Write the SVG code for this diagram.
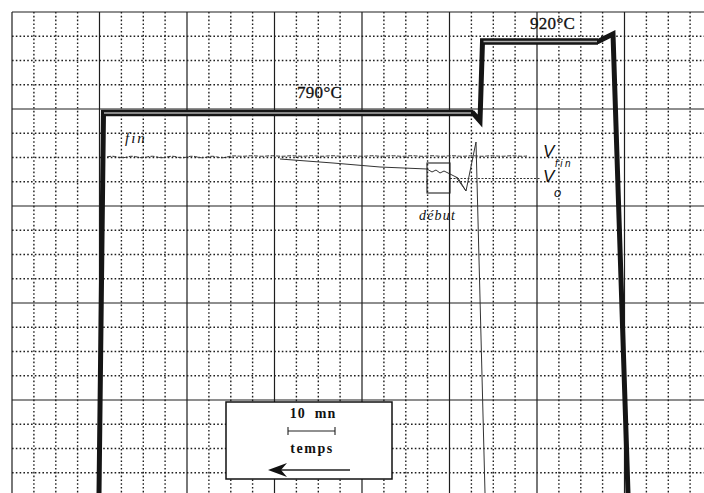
<svg xmlns="http://www.w3.org/2000/svg" width="704" height="493" viewBox="0 0 704 493">
<style>
.minor{stroke:#1e1e1e;stroke-width:1.4;stroke-dasharray:1.6 2.2;fill:none}
.major{stroke:#1e1e1e;stroke-width:1.2;fill:none}
.temp{stroke:#151515;stroke-width:5;fill:none;stroke-linejoin:miter}
.temph{stroke:#151515;stroke-width:6.5;fill:none}
.tempin{stroke:#b0b0b0;stroke-width:1.6;fill:none}
.trace{stroke:#333;stroke-width:1;fill:none}
.lbl{font-family:"Liberation Serif",serif;fill:#111}
</style>
<rect width="704" height="493" fill="#fff"/>
<g id="grid">
<path class="minor" d="M33.9 12V493M55.8 12V493M77.6 12V493M121.4 12V493M143.3 12V493M165.1 12V493M208.9 12V493M230.8 12V493M252.6 12V493M296.4 12V493M318.3 12V493M340.1 12V493M383.9 12V493M405.8 12V493M427.6 12V493M471.4 12V493M493.3 12V493M515.1 12V493M558.9 12V493M580.8 12V493M602.6 12V493M646.4 12V493M668.3 12V493M690.1 12V493"/>
<path class="minor" d="M12 36.3H704M12 60.5H704M12 84.8H704M12 133.3H704M12 157.5H704M12 181.8H704M12 230.3H704M12 254.5H704M12 278.8H704M12 327.3H704M12 351.5H704M12 375.8H704M12 424.3H704M12 448.5H704M12 472.8H704"/>
<path class="major" d="M12 12V493M99.5 12V493M187 12V493M274.5 12V493M362 12V493M449.5 12V493M537 12V493M624.5 12V493"/>
<path class="major" d="M12 12H704M12 109H704M12 206H704M12 303H704M12 400H704"/>
</g>
<g id="temperature">
<path class="temp" d="M99 493 L103.5 113 L473 113 L480 121 L482.5 41.5 L598 41.5 L613 34 L628 493"/>
<path class="temph" d="M101 113 L473 113 M480 41.5 L598 41.5"/>
<path class="tempin" d="M104 113 L471 113 M483.5 41.5 L597 41.5"/>
</g>
<g id="signal">
<path class="trace" stroke-dasharray="4 1.5" d="M107 157 q5 -1.5 10 0 t10 0 t10 0 t10 0 t10 0 t10 0 t10 0 t10 0 t10 0 t10 0 t10 0 t10 0 t10 -1 t10 0 t10 0 t10 0 t10 0 t10 0 t10 0 t10 0 t10 0 t10 0 t10 0 t10 0 t10 0 t10 0 t10 0 t10 0 t10 0 t10 0 t10 0 t10 0 t10 0 t10 0 t10 0 t10 0 t10 0 t10 0 t10 0 t10 0 t10 0 t10 0"/>
<path class="trace" d="M280 159 L333 163 L380 167 L427 169 L432 172 L436 170 L440 173 L444 171 L450 174 L458 178 L466 191 L476 142 L485 493"/>
<path class="trace" stroke-width="1.5" d="M456 177 L466 191"/>
<path class="trace" stroke-dasharray="2 1.5" d="M450 178.5 L540 178.5"/>
<rect x="427" y="163" width="23" height="30" fill="none" stroke="#222" stroke-width="1.1"/>
</g>
<g id="labels">
<text class="lbl" x="297" y="98" font-size="17" letter-spacing="0.3" stroke="#111" stroke-width="0.3">790°C</text>
<text class="lbl" x="530" y="29" font-size="17" letter-spacing="0.3" stroke="#111" stroke-width="0.3">920°C</text>
<text class="lbl" x="125" y="143" font-size="15" font-style="italic" letter-spacing="2">fin</text>
<text class="lbl" x="419" y="220" font-size="14" font-style="italic" letter-spacing="1.2">début</text>
<text x="543" y="157" font-family="'Liberation Sans',sans-serif" font-size="17" font-style="italic" fill="#111">V</text>
<text x="555" y="167" font-family="'Liberation Sans',sans-serif" font-size="10" font-style="italic" letter-spacing="2.5" fill="#111">fin</text>
<text x="543" y="182" font-family="'Liberation Sans',sans-serif" font-size="17" font-style="italic" fill="#111">V</text>
<text x="554" y="197" font-family="'Liberation Sans',sans-serif" font-size="13" font-style="italic" fill="#111">o</text>
</g>
<g id="legend">
<rect x="226" y="402" width="166" height="77" fill="#fff" stroke="#111" stroke-width="1.5"/>
<text class="lbl" x="313" y="418" font-size="14" font-weight="bold" letter-spacing="1" text-anchor="middle" xml:space="preserve">10  mn</text>
<path d="M288 431 H335 M288 427 V435 M335 427 V435" stroke="#222" stroke-width="1.1" fill="none"/>
<text class="lbl" x="312" y="453" font-size="14" font-weight="bold" letter-spacing="1.5" text-anchor="middle">temps</text>
<path d="M350 470 H278" stroke="#222" stroke-width="1.3" fill="none"/>
<path d="M268 470 L287 463 L281 470 L287 477 Z" fill="#111"/>
</g>
</svg>
